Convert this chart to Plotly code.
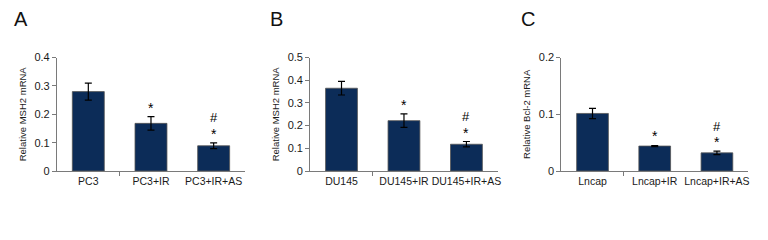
import plotly.graph_objects as go

panel_letters = ["A", "B", "C"]
categories_a = ["PC3", "PC3+IR", "PC3+IR+AS"]
categories_b = ["DU145", "DU145+IR", "DU145+IR+AS"]
categories_c = ["Lncap", "Lncap+IR", "Lncap+IR+AS"]
values_a = [0.28, 0.168, 0.089]
errors_a = [0.03, 0.024, 0.01]
values_b = [0.365, 0.222, 0.118]
errors_b = [0.03, 0.03, 0.012]
values_c = [0.1015, 0.044, 0.032]
errors_c = [0.009, 0.001, 0.003]
ytitles = ["Relative MSH2 mRNA", "Relative MSH2 mRNA", "Relative Bcl-2 mRNA"]
yticks_a = [0, 0.1, 0.2, 0.3, 0.4]
yticks_b = [0, 0.1, 0.2, 0.3, 0.4, 0.5]
yticks_c = [0, 0.1, 0.2]
ytext_a = ["0", "0.1", "0.2", "0.3", "0.4"]
ytext_b = ["0", "0.1", "0.2", "0.3", "0.4", "0.5"]
ytext_c = ["0", "0.1", "0.2"]
ymax = [0.4, 0.5, 0.2]
sig_star = [[False, True, True]] * 3
sig_hash = [[False, False, True]] * 3

FONT = "Liberation Sans Narrow, Liberation Sans, Arial, sans-serif"
BAR = "#0c2c58"
AX = "#7a7a7a"
TXT = "#1a1a1a"

domains = [(0.0742, 0.319), (0.404, 0.648), (0.731, 0.974)]
ydom = (0.2875, 0.76)
letter_x = [0.0156, 0.349, 0.676]

panels = [
    (categories_a, values_a, errors_a, yticks_a, ytext_a),
    (categories_b, values_b, errors_b, yticks_b, ytext_b),
    (categories_c, values_c, errors_c, yticks_c, ytext_c),
]

fig = go.Figure()
annotations = []
layout = {}
for i, (cats, vals, errs, yt, ytx) in enumerate(panels):
    n = i + 1
    xa = "x" if n == 1 else f"x{n}"
    ya = "y" if n == 1 else f"y{n}"
    xpos = list(range(len(cats)))
    fig.add_trace(go.Bar(
        x=xpos, y=vals, xaxis=xa, yaxis=ya, width=0.51,
        marker=dict(color=BAR, line=dict(color="#555555", width=0.8)),
        error_y=dict(type="data", array=errs, color="black", thickness=1.2, width=3.5),
        showlegend=False,
    ))
    layout[f"xaxis{'' if n == 1 else n}"] = dict(
        domain=list(domains[i]), anchor=ya, range=[-0.5, len(cats) - 0.5],
        tickvals=xpos, ticktext=cats, ticks="", showline=True, linecolor=AX, linewidth=1.2,
        showgrid=False, zeroline=False, tickfont=dict(family=FONT, size=10.5, color=TXT),
        tickangle=0, automargin=False, fixedrange=True,
    )
    layout[f"yaxis{'' if n == 1 else n}"] = dict(
        domain=list(ydom), anchor=xa, range=[0, ymax[i]],
        tickvals=yt, ticktext=ytx, ticks="outside", ticklen=4, tickcolor=AX, tickwidth=1.2,
        showline=True, linecolor=AX, linewidth=1.2, showgrid=False, zeroline=False,
        tickfont=dict(family=FONT, size=11, color=TXT), automargin=False,
        title=dict(text=ytitles[i], font=dict(family=FONT, size=9.5, color=TXT), standoff=6),
    )
    m = n + 3
    layout[f"xaxis{m}"] = dict(
        domain=list(domains[i]), anchor=ya, overlaying=xa, range=[-0.5, len(cats) - 0.5],
        tickvals=[0.5], ticktext=[""], ticks="outside", ticklen=4, tickcolor=AX, tickwidth=1.2,
        showline=False, showgrid=False, zeroline=False, side="bottom", fixedrange=True,
        automargin=False,
    )
    fig.add_trace(go.Scatter(x=[0.5], y=[0], xaxis=f"x{m}", yaxis=ya, mode="markers",
                             marker=dict(opacity=0), showlegend=False, hoverinfo="skip"))
    for j in range(len(cats)):
        top = vals[j] + errs[j]
        if sig_star[i][j]:
            annotations.append(dict(x=j, y=top, xref=xa, yref=ya, text="*", showarrow=False,
                                    yshift=9, font=dict(family=FONT, size=14, color="black")))
        if sig_hash[i][j]:
            annotations.append(dict(x=j, y=top, xref=xa, yref=ya, text="#", showarrow=False,
                                    yshift=25, font=dict(family=FONT, size=13, color="black")))
    annotations.append(dict(x=letter_x[i], y=1.0, xref="paper", yref="paper",
                            text=panel_letters[i], showarrow=False,
                            xanchor="left", yanchor="top", yshift=-6,
                            font=dict(family=FONT, size=20, color="#111")))

fig.update_layout(**layout)
fig.update_layout(
    width=768, height=240, margin=dict(l=0, r=0, t=0, b=0, autoexpand=False),
    plot_bgcolor="white", paper_bgcolor="white", annotations=annotations,
)
fig.write_html("out.html", config={"displayModeBar": False},
               post_script="document.body.style.margin='0';")
